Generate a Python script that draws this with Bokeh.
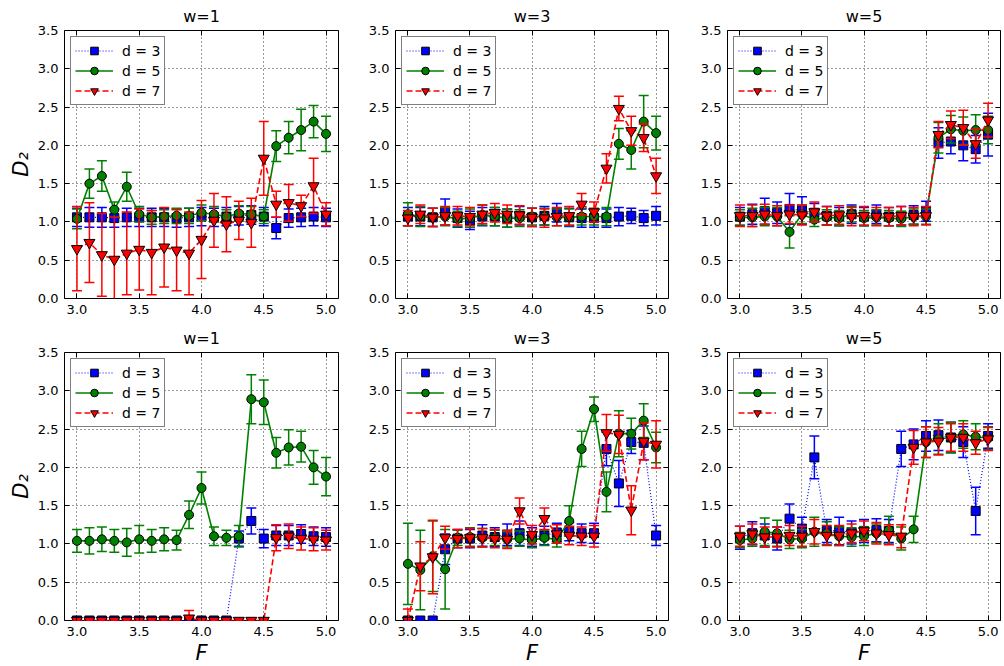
from bokeh.plotting import figure
from bokeh.layouts import column, row
from bokeh.models import (Legend, LegendItem, FixedTicker, PrintfTickFormatter,
                          LinearAxis, Range1d, ColumnDataSource)
from bokeh.embed import file_html
from bokeh.resources import INLINE

F = [3.0, 3.1, 3.2, 3.3, 3.4, 3.5, 3.6, 3.7, 3.8, 3.9, 4.0,
     4.1, 4.2, 4.3, 4.4, 4.5, 4.6, 4.7, 4.8, 4.9, 5.0]
x_ticks = [3.0, 3.5, 4.0, 4.5, 5.0]
y_ticks = [0.0, 0.5, 1.0, 1.5, 2.0, 2.5, 3.0, 3.5]
labels = ["d = 3", "d = 5", "d = 7"]
titles = ["w=1", "w=3", "w=5"]

# ---------- top row ----------
t1_d3 = [1.06, 1.06, 1.06, 1.05, 1.06, 1.06, 1.06, 1.06, 1.05, 1.06, 1.07, 1.06, 1.07, 1.08, 1.09, 1.07, 0.92, 1.05, 1.06, 1.07, 1.06]
t1_d3e = [0.12, 0.13, 0.13, 0.12, 0.12, 0.12, 0.12, 0.12, 0.12, 0.12, 0.12, 0.12, 0.12, 0.12, 0.12, 0.12, 0.14, 0.12, 0.12, 0.12, 0.12]
t1_d5 = [1.04, 1.50, 1.60, 1.16, 1.46, 1.10, 1.06, 1.07, 1.08, 1.08, 1.12, 1.10, 1.07, 1.11, 1.10, 1.07, 1.99, 2.10, 2.20, 2.31, 2.15]
t1_d5e = [0.13, 0.19, 0.20, 0.10, 0.19, 0.10, 0.09, 0.09, 0.10, 0.10, 0.10, 0.10, 0.09, 0.10, 0.10, 0.09, 0.20, 0.21, 0.27, 0.21, 0.23]
t1_d7 = [0.65, 0.73, 0.57, 0.51, 0.59, 0.64, 0.60, 0.67, 0.63, 0.59, 0.77, 1.02, 0.97, 1.02, 0.99, 1.83, 1.23, 1.25, 1.21, 1.47, 1.10]
t1_d7e = [0.55, 0.52, 0.54, 0.55, 0.54, 0.53, 0.55, 0.52, 0.53, 0.54, 0.51, 0.35, 0.36, 0.25, 0.32, 0.48, 0.17, 0.24, 0.14, 0.36, 0.15]

t3_d3 = [1.07, 1.07, 1.06, 1.13, 1.05, 1.02, 1.07, 1.07, 1.05, 1.08, 1.06, 1.08, 1.12, 1.06, 1.05, 1.05, 1.05, 1.07, 1.08, 1.05, 1.08]
t3_d3e = [0.12, 0.12, 0.12, 0.17, 0.12, 0.12, 0.12, 0.12, 0.12, 0.12, 0.12, 0.12, 0.12, 0.12, 0.12, 0.12, 0.12, 0.12, 0.10, 0.10, 0.12]
t3_d5 = [1.10, 1.07, 1.06, 1.07, 1.04, 1.05, 1.09, 1.07, 1.05, 1.05, 1.07, 1.07, 1.06, 1.06, 1.07, 1.07, 1.07, 2.02, 1.94, 2.31, 2.16]
t3_d5e = [0.15, 0.13, 0.12, 0.12, 0.10, 0.12, 0.13, 0.12, 0.12, 0.11, 0.11, 0.11, 0.11, 0.11, 0.11, 0.11, 0.12, 0.20, 0.25, 0.34, 0.22]
t3_d7 = [1.05, 1.10, 1.06, 1.08, 1.08, 1.07, 1.10, 1.12, 1.10, 1.09, 1.06, 1.05, 1.07, 1.08, 1.23, 1.13, 1.70, 2.48, 2.19, 2.10, 1.60]
t3_d7e = [0.10, 0.12, 0.12, 0.12, 0.12, 0.12, 0.12, 0.12, 0.12, 0.12, 0.12, 0.12, 0.12, 0.12, 0.14, 0.13, 0.19, 0.16, 0.19, 0.18, 0.23]

t5_d3 = [1.07, 1.10, 1.14, 1.12, 1.17, 1.15, 1.12, 1.08, 1.07, 1.10, 1.07, 1.10, 1.07, 1.08, 1.09, 1.14, 2.03, 2.05, 2.00, 1.95, 2.14]
t5_d3e = [0.12, 0.13, 0.17, 0.14, 0.20, 0.18, 0.12, 0.12, 0.12, 0.12, 0.12, 0.12, 0.12, 0.12, 0.12, 0.13, 0.20, 0.16, 0.20, 0.18, 0.28]
t5_d5 = [1.06, 1.06, 1.07, 1.07, 0.87, 1.10, 1.03, 1.06, 1.05, 1.10, 1.05, 1.06, 1.05, 1.04, 1.07, 1.07, 2.10, 2.21, 2.19, 2.20, 2.20]
t5_d5e = [0.10, 0.12, 0.12, 0.12, 0.21, 0.12, 0.09, 0.10, 0.10, 0.10, 0.10, 0.10, 0.10, 0.10, 0.10, 0.10, 0.20, 0.18, 0.18, 0.20, 0.18]
t5_d7 = [1.08, 1.08, 1.10, 1.08, 1.10, 1.09, 1.13, 1.08, 1.09, 1.07, 1.08, 1.07, 1.07, 1.08, 1.07, 1.08, 2.14, 2.27, 2.23, 2.02, 2.33]
t5_d7e = [0.14, 0.14, 0.13, 0.13, 0.12, 0.13, 0.13, 0.12, 0.12, 0.12, 0.12, 0.12, 0.12, 0.12, 0.12, 0.12, 0.17, 0.18, 0.23, 0.19, 0.22]

# ---------- bottom row ----------
b1_d3 = [0.00, 0.00, 0.00, 0.00, 0.00, 0.00, 0.00, 0.00, 0.00, 0.00, 0.00, 0.00, 0.00, 1.07, 1.30, 1.07, 1.11, 1.11, 1.13, 1.10, 1.09]
b1_d3e = [0.00, 0.00, 0.00, 0.00, 0.00, 0.00, 0.00, 0.00, 0.00, 0.00, 0.00, 0.00, 0.00, 0.10, 0.17, 0.12, 0.13, 0.13, 0.12, 0.12, 0.12]
b1_d5 = [1.04, 1.04, 1.06, 1.04, 1.02, 1.06, 1.04, 1.06, 1.05, 1.38, 1.73, 1.10, 1.08, 1.10, 2.89, 2.85, 2.19, 2.26, 2.27, 2.00, 1.88]
b1_d5e = [0.15, 0.17, 0.16, 0.15, 0.18, 0.18, 0.15, 0.15, 0.13, 0.18, 0.21, 0.12, 0.10, 0.14, 0.32, 0.29, 0.20, 0.23, 0.20, 0.22, 0.25]
b1_d7 = [0.00, 0.00, 0.00, 0.00, 0.00, 0.00, 0.00, 0.00, 0.00, 0.03, 0.00, 0.00, 0.00, 0.00, 0.00, 0.00, 1.08, 1.10, 1.07, 1.06, 1.05]
b1_d7e = [0.00, 0.00, 0.00, 0.00, 0.00, 0.00, 0.00, 0.00, 0.00, 0.10, 0.00, 0.00, 0.00, 0.00, 0.00, 0.00, 0.17, 0.16, 0.15, 0.15, 0.13]

b3_d3 = [0.00, 0.00, 0.00, 0.93, 1.07, 1.07, 1.11, 1.09, 1.12, 1.14, 1.09, 1.11, 1.15, 1.16, 1.14, 1.14, 2.24, 1.79, 2.33, 2.32, 1.11]
b3_d3e = [0.00, 0.00, 0.00, 0.20, 0.12, 0.12, 0.14, 0.12, 0.14, 0.16, 0.12, 0.12, 0.12, 0.12, 0.12, 0.13, 0.22, 0.30, 0.15, 0.22, 0.13]
b3_d5 = [0.74, 0.66, 0.84, 0.67, 1.08, 1.09, 1.08, 1.08, 1.06, 1.07, 1.05, 1.08, 1.06, 1.30, 2.24, 2.76, 1.68, 2.44, 2.44, 2.61, 2.26]
b3_d5e = [0.53, 0.52, 0.46, 0.52, 0.10, 0.12, 0.12, 0.10, 0.10, 0.10, 0.10, 0.10, 0.10, 0.20, 0.23, 0.16, 0.26, 0.30, 0.20, 0.22, 0.20]
b3_d7 = [0.00, 0.71, 0.83, 1.08, 1.07, 1.08, 1.08, 1.07, 1.06, 1.43, 1.12, 1.33, 1.13, 1.11, 1.10, 1.10, 2.45, 2.43, 1.44, 2.34, 2.30]
b3_d7e = [0.15, 0.32, 0.48, 0.15, 0.12, 0.12, 0.12, 0.12, 0.12, 0.17, 0.12, 0.14, 0.12, 0.12, 0.12, 0.14, 0.24, 0.25, 0.32, 0.24, 0.31]

b5_d3 = [1.08, 1.14, 1.11, 1.07, 1.33, 1.20, 2.13, 1.17, 1.17, 1.15, 1.17, 1.18, 1.17, 2.24, 2.30, 2.41, 2.42, 2.39, 2.33, 1.43, 2.41]
b5_d3e = [0.15, 0.15, 0.15, 0.15, 0.19, 0.15, 0.28, 0.15, 0.18, 0.15, 0.15, 0.15, 0.15, 0.23, 0.20, 0.20, 0.20, 0.20, 0.20, 0.31, 0.16]
b5_d5 = [1.05, 1.07, 1.16, 1.14, 1.06, 1.07, 1.16, 1.14, 1.10, 1.09, 1.10, 1.14, 1.18, 1.07, 1.19, 2.33, 2.37, 2.39, 2.43, 2.40, 2.38]
b5_d5e = [0.10, 0.10, 0.18, 0.17, 0.12, 0.12, 0.19, 0.15, 0.12, 0.12, 0.12, 0.12, 0.18, 0.15, 0.17, 0.20, 0.20, 0.20, 0.18, 0.17, 0.15]
b5_d7 = [1.10, 1.13, 1.09, 1.09, 1.11, 1.10, 1.16, 1.11, 1.11, 1.14, 1.17, 1.14, 1.12, 1.10, 2.26, 2.33, 2.34, 2.39, 2.39, 2.32, 2.37]
b5_d7e = [0.13, 0.13, 0.13, 0.13, 0.13, 0.13, 0.16, 0.13, 0.13, 0.12, 0.13, 0.14, 0.13, 0.15, 0.22, 0.20, 0.18, 0.18, 0.18, 0.15, 0.15]

STYLES = [
    dict(color="#0000ff", marker="square", size=9, dash="1 2", lw=1.2),
    dict(color="#008000", marker="circle", size=9, dash="solid", lw=1.6),
    dict(color="#ff0000", marker="inverted_triangle", size=11, dash="6 3", lw=1.6),
]
FONT = "DejaVu Sans"
# (left border, frame width, right border) per column
COLS = [(64, 274, 10), (47, 273, 10), (49, 273, 3)]


def panel(title, series, col, bottom_row):
    bl, fw, br = COLS[col]
    p = figure(frame_width=fw, frame_height=268,
               x_range=Range1d(2.9, 5.1), y_range=Range1d(0, 3.5),
               output_backend="svg", toolbar_location=None,
               min_border_left=bl, min_border_right=br,
               min_border_top=30,
               min_border_bottom=42 if bottom_row else 24,
               background_fill_color="white", border_fill_color="white")
    p.title.text = title
    p.title.align = "center"
    p.title.text_font = FONT
    p.title.text_font_size = "16px"
    p.title.text_font_style = "normal"
    p.title.text_color = "black"
    p.title.standoff = 9
    p.outline_line_color = "black"
    p.outline_line_width = 1
    p.xaxis.ticker = FixedTicker(ticks=x_ticks)
    p.yaxis.ticker = FixedTicker(ticks=y_ticks)
    p.xaxis.formatter = PrintfTickFormatter(format="%.1f")
    p.yaxis.formatter = PrintfTickFormatter(format="%.1f")
    for ax in (p.xaxis[0], p.yaxis[0]):
        ax.axis_line_color = None
        ax.major_tick_in = 5
        ax.major_tick_out = 0
        ax.major_tick_line_color = "black"
        ax.minor_tick_line_color = None
        ax.major_label_text_font = FONT
        ax.major_label_text_font_size = "13px"
        ax.major_label_text_color = "black"
        ax.major_label_standoff = 6
        ax.axis_label_text_font = FONT
        ax.axis_label_text_font_size = "21px"
        ax.axis_label_text_font_style = "italic"
        ax.axis_label_text_color = "black"
        ax.axis_label_standoff = 2
    if col == 0:
        p.yaxis.axis_label = "D\u2082"
    if bottom_row:
        p.xaxis.axis_label = "F"
    # mirror ticks on the right and top edges (labels not drawn)
    for loc, ticks in (("right", y_ticks), ("above", x_ticks)):
        ax = LinearAxis(ticker=FixedTicker(ticks=ticks), axis_line_color=None,
                        major_tick_in=5, major_tick_out=0, minor_tick_line_color=None,
                        major_label_text_font_size="1px", major_label_text_color=None,
                        major_label_standoff=0, major_tick_line_color="black")
        p.add_layout(ax, loc)
    p.grid.grid_line_color = "black"
    p.grid.grid_line_dash = "1 3"
    p.grid.grid_line_alpha = 0.8
    p.xgrid.ticker = FixedTicker(ticks=x_ticks)
    p.ygrid.ticker = FixedTicker(ticks=y_ticks)

    items = []
    for (vals, errs), st, lab in zip(series, STYLES, labels):
        lo = [v - e for v, e in zip(vals, errs)]
        hi = [v + e for v, e in zip(vals, errs)]
        src = ColumnDataSource(dict(x=F, y=vals, lo=lo, hi=hi))
        p.segment(x0="x", y0="lo", x1="x", y1="hi", source=src,
                  line_color=st["color"], line_width=1.5)
        p.scatter(x="x", y="lo", source=src, marker="dash", size=10,
                  line_color=st["color"], line_width=1.5)
        p.scatter(x="x", y="hi", source=src, marker="dash", size=10,
                  line_color=st["color"], line_width=1.5)
        ln = p.line(x="x", y="y", source=src, line_color=st["color"],
                    line_width=st["lw"], line_dash=st["dash"])
        mk = p.scatter(x="x", y="y", source=src, marker=st["marker"],
                       size=st["size"], fill_color=st["color"],
                       line_color="black", line_width=1)
        items.append(LegendItem(label=lab, renderers=[ln, mk]))
    leg = Legend(items=items, location="top_left",
                 border_line_color="black", border_line_width=1.2,
                 background_fill_color="white", background_fill_alpha=1.0,
                 label_text_font=FONT, label_text_font_size="14px",
                 label_text_color="black",
                 glyph_width=38, glyph_height=19, label_height=19,
                 label_standoff=9, spacing=1, padding=4, margin=6)
    p.add_layout(leg)
    return p


top = [
    panel(titles[0], [(t1_d3, t1_d3e), (t1_d5, t1_d5e), (t1_d7, t1_d7e)], 0, False),
    panel(titles[1], [(t3_d3, t3_d3e), (t3_d5, t3_d5e), (t3_d7, t3_d7e)], 1, False),
    panel(titles[2], [(t5_d3, t5_d3e), (t5_d5, t5_d5e), (t5_d7, t5_d7e)], 2, False),
]
bottom = [
    panel(titles[0], [(b1_d3, b1_d3e), (b1_d5, b1_d5e), (b1_d7, b1_d7e)], 0, True),
    panel(titles[1], [(b3_d3, b3_d3e), (b3_d5, b3_d5e), (b3_d7, b3_d7e)], 1, True),
    panel(titles[2], [(b5_d3, b5_d3e), (b5_d5, b5_d5e), (b5_d7, b5_d7e)], 2, True),
]

layout = column(row(*top), row(*bottom))
open("out.html", "w").write(file_html(layout, INLINE))
